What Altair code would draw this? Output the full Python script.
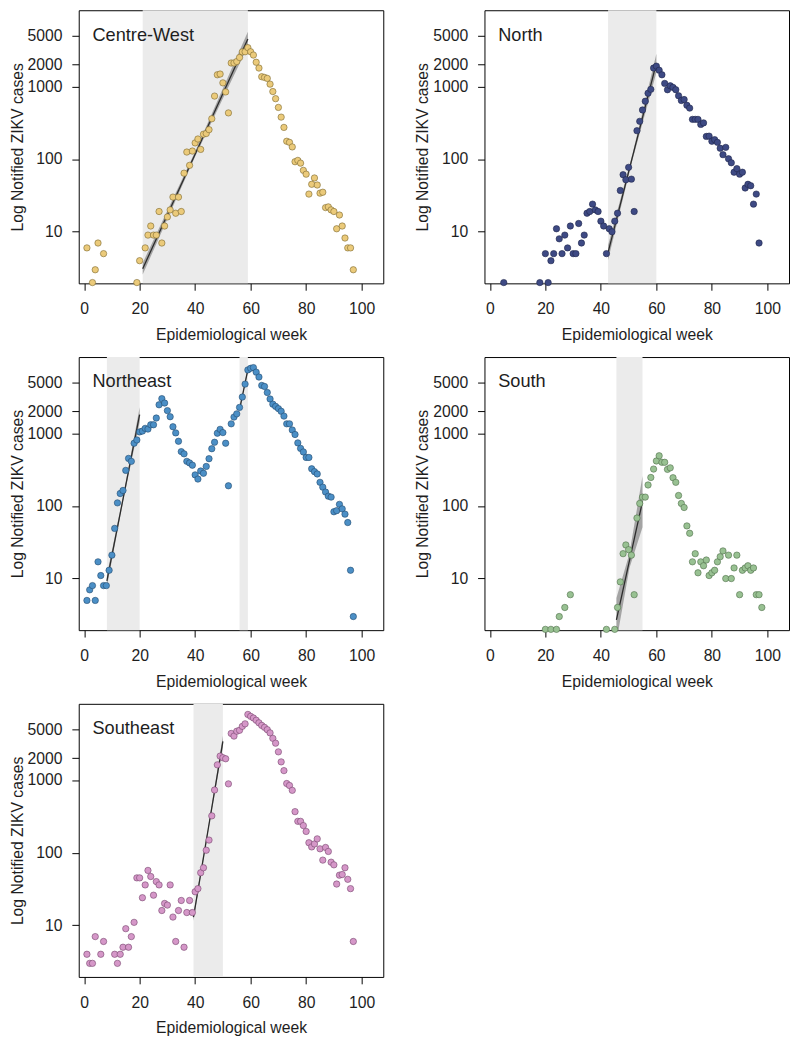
import altair as alt
import pandas as pd

# ---------------- data ----------------
cw_week = [1, 3, 4, 5, 7, 19, 20, 22, 23, 24, 25, 26, 27, 28, 29, 30, 31, 32, 33, 34, 35, 36, 37, 38, 39, 40,
           41, 42, 43, 44, 45, 46, 47, 48, 49, 50, 51, 52, 53, 54, 55, 56, 57, 58, 59, 60, 61, 62, 63, 64, 65,
           66, 67, 68, 69, 70, 71, 72, 73, 74, 75, 76, 77, 78, 79, 80, 81, 82, 83, 84, 85, 86, 87, 88, 89, 90,
           91, 92, 93, 94, 95, 96, 97]
cw_cases = [6, 2, 3, 7, 5, 2, 4, 6, 9, 12, 9, 9, 19, 7, 12, 16, 20, 30, 18, 30, 19, 64, 125, 82, 129, 167,
            189, 136, 220, 225, 254, 359, 736, 1446, 1480, 1119, 840, 432, 2100, 2100, 2200, 2500, 2990, 3000,
            3415, 3000, 2700, 2150, 1790, 1360, 1330, 1290, 1075, 850, 678, 514, 378, 273, 176, 170, 147, 92,
            96, 88, 70, 62, 33, 45, 55, 44, 34, 35, 21.5, 22, 20, 19, 11, 17, 12, 8.2, 6, 6, 3]

n_week = [5, 18, 20, 21, 22, 23, 24, 25, 26, 27, 28, 29, 30, 31, 32, 33, 34, 35, 36, 37, 38, 39, 40, 41, 42,
          43, 44, 45, 46, 47, 48, 49, 50, 51, 52, 53, 54, 55, 56, 57, 58, 59, 60, 61, 62, 63, 64, 65, 66, 67,
          68, 69, 70, 71, 72, 73, 74, 75, 76, 77, 78, 79, 80, 81, 82, 83, 84, 85, 86, 87, 88, 89, 90, 91, 92,
          93, 94, 95, 96, 97]
n_cases = [2, 2, 5, 2, 4, 5, 11, 8, 5, 9, 6, 12, 5, 5, 13, 7, 9, 18, 19, 24, 20, 19, 14, 12, 5, 11, 10, 14,
           18, 37, 61, 52, 77, 53, 19, 246, 331, 474, 625, 807, 912, 1790, 1900, 1670, 1445, 1100, 900, 1020,
           970, 900, 743, 640, 660, 550, 503, 352, 352, 352, 300, 315, 205, 207, 176, 185, 170, 141, 115, 145,
           101, 89, 66, 74, 62, 66, 40, 45, 43, 24, 33, 7]

ne_week = [1, 2, 3, 4, 5, 6, 7, 8, 9, 10, 11, 12, 13, 14, 15, 16, 17, 18, 19, 20, 21, 22, 23, 24, 25, 26, 27,
           28, 29, 30, 31, 32, 33, 34, 35, 36, 37, 38, 39, 40, 41, 42, 43, 44, 45, 46, 47, 48, 49, 50, 51, 52,
           53, 54, 55, 56, 57, 58, 59, 60, 61, 62, 63, 64, 65, 66, 67, 68, 69, 70, 71, 72, 73, 74, 75, 76, 77,
           78, 79, 80, 81, 82, 83, 84, 85, 86, 87, 88, 89, 90, 91, 92, 93, 94, 95, 96, 97]
ne_cases = [5, 7, 8, 5, 17, 11, 8, 8, 13, 21, 49, 110, 148, 163, 308, 450, 410, 728, 807, 1042, 1070, 1166,
            1140, 1306, 1306, 1618, 2460, 2990, 2600, 2046, 1686, 1227, 1010, 775, 558, 520, 410, 390, 363, 267,
            234, 302, 281, 349, 446, 612, 751, 1000, 1131, 1020, 728, 189, 1346, 1668, 1848, 2267, 3145, 4742,
            7430, 7820, 7990, 6920, 5930, 4545, 4400, 3630, 2960, 2510, 2340, 2180, 2003, 1720, 1346, 1346,
            1108, 960, 736, 618, 552, 464, 464, 324, 296, 275, 211, 181, 155, 136, 132, 83, 86, 105, 91, 77, 59,
            13, 3]

s_week = [20, 22, 24, 25, 27, 29, 42, 45, 46, 47, 48, 49, 50, 51, 52, 53, 54, 55, 56, 57, 58, 59, 60, 61, 62,
          63, 64, 65, 66, 67, 68, 69, 70, 71, 72, 73, 74, 75, 76, 77, 78, 79, 80, 81, 82, 83, 84, 85, 86, 87,
          88, 89, 90, 91, 92, 93, 94, 95, 96, 97, 98]
s_cases = [2, 2, 2, 3, 4, 6, 2, 2, 4, 9, 22, 29, 25, 21, 6, 68, 108, 132, 132, 194, 246, 321, 415, 489, 398,
           398, 318, 334, 244, 211, 139, 108, 95, 53, 42, 17, 22, 12, 17, 15, 18, 11, 12, 13, 17, 20, 24, 10,
           21, 10, 14, 21, 6, 13, 14, 15, 13, 14, 6, 6, 4]

se_week = [1, 2, 3, 4, 6, 7, 11, 12, 13, 14, 15, 16, 17, 18, 19, 20, 21, 22, 23, 24, 25, 26, 27, 28, 29, 30,
           31, 32, 33, 34, 35, 36, 37, 38, 39, 40, 41, 42, 43, 44, 45, 46, 47, 48, 49, 50, 51, 52, 53, 54, 55,
           56, 57, 58, 59, 60, 61, 62, 63, 64, 65, 66, 67, 68, 69, 70, 71, 72, 73, 74, 75, 76, 77, 78, 79, 80,
           81, 82, 83, 84, 85, 86, 87, 88, 89, 90, 91, 92, 93, 94, 95, 96, 97]
se_cases = [4, 3, 3, 7, 4, 6, 4, 3, 4, 5, 9, 5, 7, 11, 45, 45, 24, 36, 57, 47, 26, 40, 36, 16, 20, 19, 36, 13,
            6, 16, 22, 5, 15, 22, 15, 29, 32, 53, 62, 108, 149, 321, 728, 1618, 2133, 2028, 1960, 885, 4370,
            4020, 4690, 4830, 5470, 5930, 7980, 7510, 7130, 6640, 6120, 5640, 5300, 4930, 4450, 3740, 3210,
            2440, 1775, 1346, 894, 840, 721, 367, 270, 270, 236, 196, 137, 120, 132, 155, 113, 79, 118, 104,
            74, 68, 37, 49, 50, 62, 43, 32, 6]

regions = ["Centre-West", "North", "Northeast", "South", "Southeast"]
fills = ["#EBCA7A", "#3E4A84", "#4B8FC6", "#98C192", "#D597C8"]
strokes = ["#7A6630", "#1E264A", "#234A6E", "#4F6E4A", "#74456C"]
series = {
    "Centre-West": (cw_week, cw_cases),
    "North": (n_week, n_cases),
    "Northeast": (ne_week, ne_cases),
    "South": (s_week, s_cases),
    "Southeast": (se_week, se_cases),
}

# exponential-growth windows (grey shading) and fitted line / band
win_region = ["Centre-West", "North", "Northeast", "Northeast", "South", "Southeast"]
win_id = ["cw", "n", "ne1", "ne2", "s", "se"]
win_start = [21.1, 42.6, 8.2, 56.0, 45.6, 39.4]
win_end = [59.0, 60.0, 20.0, 59.0, 55.0, 50.0]
fit_start = [3.1, 5.2, 9.3, 2110, 2.7, 13]
fit_end = [4500, 2090, 1800, 7500, 115, 3390]
band_lo_start = [2.58, 4.1, 7.7, 1925, 1.35, 11.6]
band_hi_start = [3.72, 6.5, 11.2, 2315, 5.4, 14.6]
band_lo_mid = [109, 95, 119, 3800, 14.0, 198]
band_hi_mid = [128, 114, 138, 4170, 22.2, 222]
band_lo_end = [3573, 1549, 1430, 6840, 51, 2820]
band_hi_end = [5662, 2818, 2270, 8220, 258, 4075]

x_ticks = [0, 20, 40, 60, 80, 100]
y_ticks = [10, 100, 1000, 2000, 5000]

# ---------------- tables ----------------
pts_rows = []
for r in regions:
    wk, cs = series[r]
    for w, c in zip(wk, cs):
        pts_rows.append({"region": r, "week": w, "cases": c})
pts = pd.DataFrame(pts_rows)

win = pd.DataFrame({"region": win_region, "win": win_id, "start": win_start, "end": win_end})

line_rows, band_rows = [], []
for i in range(len(win_id)):
    line_rows.append({"region": win_region[i], "win": win_id[i], "lx": win_start[i], "lv": fit_start[i]})
    line_rows.append({"region": win_region[i], "win": win_id[i], "lx": win_end[i], "lv": fit_end[i]})
    mid = (win_start[i] + win_end[i]) / 2
    band_rows.append({"region": win_region[i], "win": win_id[i], "bx": win_start[i],
                      "lo": band_lo_start[i], "hi": band_hi_start[i]})
    band_rows.append({"region": win_region[i], "win": win_id[i], "bx": mid,
                      "lo": band_lo_mid[i], "hi": band_hi_mid[i]})
    band_rows.append({"region": win_region[i], "win": win_id[i], "bx": win_end[i],
                      "lo": band_lo_end[i], "hi": band_hi_end[i]})
lines = pd.DataFrame(line_rows)
bands = pd.DataFrame(band_rows)

# ---------------- layout ----------------
W, H = 310, 278
XDOM = [-1.95, 107.8]
YDOM = [1.95, 11170]
FONT = "Liberation Sans"
TXT = "#1e1e1e"

xscale = alt.Scale(domain=XDOM, nice=False, zero=False)
yscale = alt.Scale(type="log", domain=YDOM, nice=False)

xaxis = alt.Axis(values=x_ticks, title="Epidemiological week", grid=False, domain=False,
                 tickSize=7, tickColor="black", labelPadding=11, titlePadding=10, labelFlush=False,
                 labelFontSize=16, titleFontSize=16, titleFontWeight="normal",
                 labelColor=TXT, titleColor=TXT)
yaxis = alt.Axis(values=y_ticks, format="d", title="Log Notified ZIKV cases", grid=False, domain=False,
                 tickSize=7, tickColor="black", labelPadding=10, titlePadding=2, labelFlush=False,
                 labelFontSize=16, titleFontSize=16, titleFontWeight="normal",
                 labelColor=TXT, titleColor=TXT)


def panel(i):
    r = regions[i]
    shade = alt.Chart(win[win.region == r]).mark_rect(color="#EBEBEB").encode(
        x=alt.X("start:Q", scale=xscale, axis=xaxis),
        x2="end:Q",
        y=alt.value(0),
        y2=alt.value(H),
    )
    band = alt.Chart(bands[bands.region == r]).mark_area(color="#8c8c8c", opacity=0.75, clip=True).encode(
        x=alt.X("bx:Q", scale=xscale, axis=xaxis),
        y=alt.Y("lo:Q", scale=yscale, axis=yaxis),
        y2="hi:Q",
        detail="win:N",
    )
    line = alt.Chart(lines[lines.region == r]).mark_line(color="#2b2b2b", strokeWidth=1.3, clip=True).encode(
        x=alt.X("lx:Q", scale=xscale, axis=xaxis),
        y=alt.Y("lv:Q", scale=yscale, axis=yaxis),
        detail="win:N",
    )
    dots = alt.Chart(pts[pts.region == r]).mark_circle(
        size=42, fill=fills[i], stroke=strokes[i], strokeWidth=0.6, opacity=1
    ).encode(
        x=alt.X("week:Q", scale=xscale, axis=xaxis),
        y=alt.Y("cases:Q", scale=yscale, axis=yaxis),
    )
    label = alt.Chart(pd.DataFrame({"label": [r]})).mark_text(
        align="left", baseline="alphabetic", fontSize=18.5, color=TXT, font=FONT
    ).encode(text="label:N", x=alt.value(14), y=alt.value(31))
    return alt.layer(shade, band, line, dots, label).properties(width=W, height=H)


row1 = alt.hconcat(panel(0), panel(1), spacing=30)
row2 = alt.hconcat(panel(2), panel(3), spacing=30)
row3 = panel(4)

chart = alt.vconcat(row1, row2, row3, spacing=13).properties(
    padding={"top": -8, "left": 0, "right": 0, "bottom": 0}
).configure(
    font=FONT
).configure_view(stroke="black", strokeWidth=1).configure_axis(
    labelFont=FONT, titleFont=FONT
)

chart.save("out.html", embed_options={"renderer": "svg", "actions": False})
